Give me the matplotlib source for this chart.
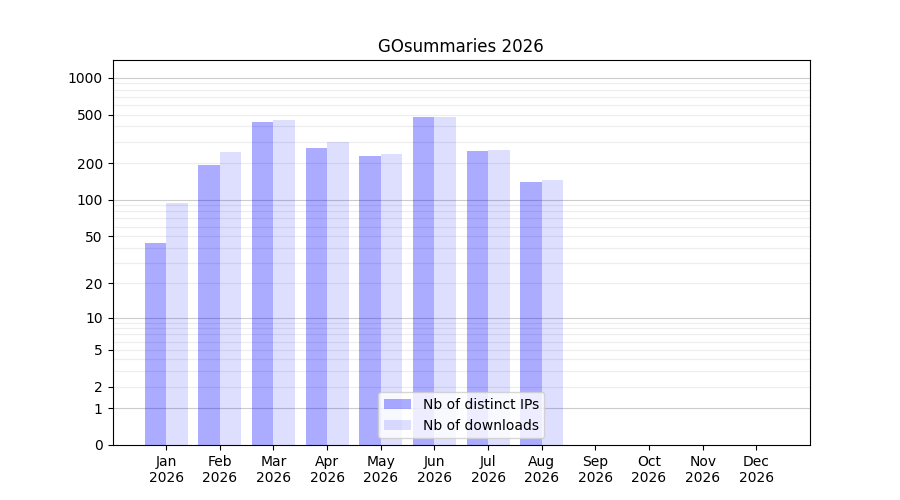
import numpy as np
import matplotlib
matplotlib.use('Agg')
import matplotlib.pyplot as plt

months = ['Jan\n2026', 'Feb\n2026', 'Mar\n2026', 'Apr\n2026', 'May\n2026', 'Jun\n2026',
          'Jul\n2026', 'Aug\n2026', 'Sep\n2026', 'Oct\n2026', 'Nov\n2026', 'Dec\n2026']
distinct_ips = [44, 194, 437, 268, 230, 480, 253, 141]
downloads = [94, 248, 454, 300, 239, 482, 257, 146]
ytick_values = [0, 1, 2, 5, 10, 20, 50, 100, 200, 500, 1000]


def fwd(y):
    return np.log10(1 + np.clip(y, 0, None))


def inv(y):
    return 10 ** y - 1


fig, ax = plt.subplots(figsize=(9, 5), dpi=100)

x = np.arange(len(distinct_ips))
ax.bar(x - 0.2, distinct_ips, width=0.4, color='blue', alpha=0.33, label='Nb of distinct IPs')
ax.bar(x + 0.2, downloads, width=0.4, color='blue', alpha=0.13, label='Nb of downloads')

ax.set_yscale('function', functions=(fwd, inv))
ax.set_ylim(0, 1400)
ax.set_yticks(ytick_values)
ax.set_yticklabels([str(v) for v in ytick_values])
ax.minorticks_off()

# grid lines: decades darker, intermediate values lighter
for dec in [1, 10, 100, 1000]:
    ax.axhline(dec, color='grey', alpha=0.4, linewidth=0.8, zorder=0)
    if dec < 1000:
        for k in range(2, 10):
            ax.axhline(dec * k, color='lightgrey', alpha=0.4, linewidth=0.8, zorder=0)

ax.set_xticks(np.arange(len(months)))
ax.set_xticklabels(months)
ax.set_xlim(-1, 12)

ax.set_title('GOsummaries 2026')
ax.legend(loc='lower center')

fig.savefig('out.png')
